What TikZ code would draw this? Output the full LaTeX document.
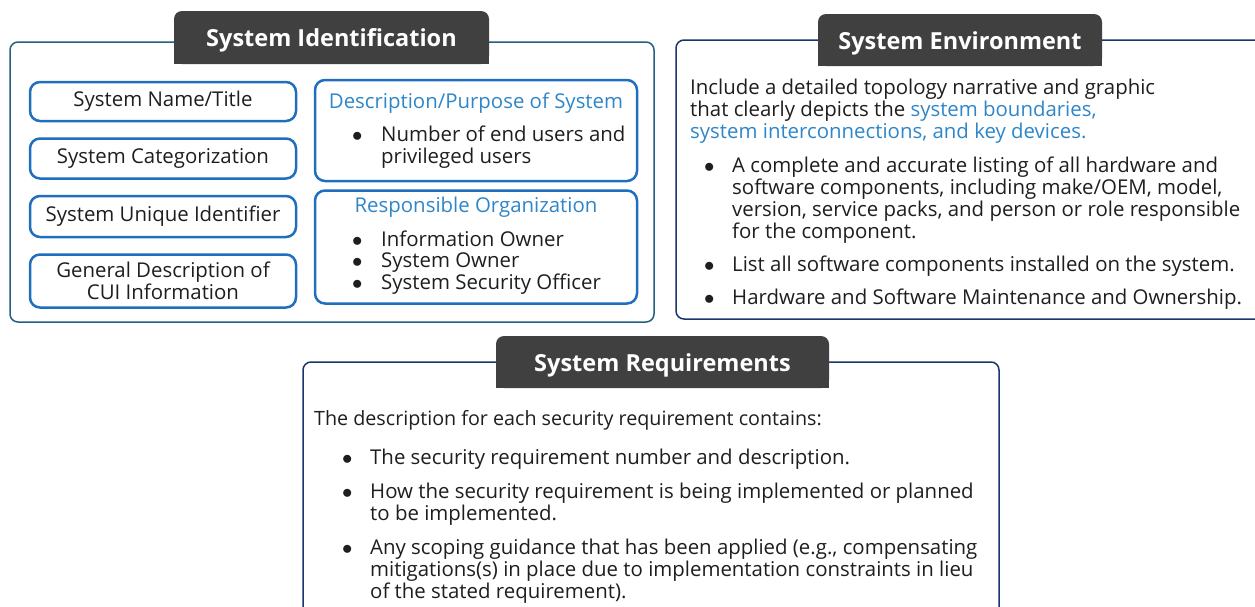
\documentclass[tikz,border=0pt]{standalone}
\usepackage{fontspec}
\setmainfont{Open Sans}
\usetikzlibrary{positioning}
\definecolor{tabgrey}{RGB}{64, 64, 64}
\definecolor{tealframe}{RGB}{36, 96, 127}
\definecolor{navyframe}{RGB}{27, 52, 110}
\definecolor{itemblue}{RGB}{31, 111, 190}
\definecolor{textblue}{RGB}{46, 134, 200}
\definecolor{bodygrey}{RGB}{30, 30, 30}
\newcommand{\bodyfont}{\fontsize{20.4}{21.7}\selectfont}
\newcommand{\headfont}{\fontsize{23.5}{26}\selectfont\bfseries}
\newcommand{\dotmark}{$\bullet$}

\begin{document}
\begin{tikzpicture}[x=1pt, y=-1pt,
    panel/.style={draw, line width=1.5pt, rounded corners=8pt},
    tab/.style={fill=tabgrey, rounded corners=8pt, inner sep=0pt},
    head/.style={text=white, font=\headfont, inner sep=0pt, yshift=-3pt},
    item/.style={draw=itemblue, line width=2.5pt, rounded corners=10pt, align=center, font=\bodyfont, text=bodygrey, inner sep=2pt},
    bodytext/.style={font=\bodyfont, text=bodygrey, inner sep=0pt, anchor=base west}
]
\useasboundingbox (0,0) rectangle (1255,606);

% Panels
\draw [panel, tealframe] (10,42) rectangle (654,322);
\draw [panel, navyframe] (676,40) rectangle (1275,319);
\draw [panel, navyframe] (303,362) rectangle (999,630);

% Tabs
\node (sidtab) [tab, minimum width=315pt, minimum height=53pt] at (331.5,37.5) {};
\fill [tabgrey] (sidtab.west) rectangle (sidtab.south east);
\node (sidhead) [head] at (sidtab.center) {System Identification};
\node (envtab) [tab, minimum width=284pt, minimum height=52pt] at (960,40) {};
\fill [tabgrey] (envtab.west) rectangle (envtab.south east);
\node (envhead) [head] at (envtab.center) {System Environment};
\node (reqtab) [tab, minimum width=333pt, minimum height=52pt] at (662.5,362) {};
\fill [tabgrey] (reqtab.west) rectangle (reqtab.south east);
\node (reqhead) [head] at (reqtab.center) {System Requirements};

% System Identification: left column
\node (name)   [item, minimum width=266pt, minimum height=39pt] at (163,101.5) {System Name/Title};
\node (categ)  [item, minimum width=266pt, minimum height=40pt, below=15pt of name] {System Categorization};
\node (unique) [item, minimum width=266pt, minimum height=41pt, below=15pt of categ] {System Unique Identifier};
\node (cuidesc) [item, minimum width=266pt, minimum height=53pt, below=15pt of unique] {General Description of\\CUI Information};

% System Identification: right column
\node (purpose) [item, minimum width=322pt, minimum height=101pt] at (476,130.5) {};
\node (resporg) [item, minimum width=322pt, minimum height=113pt, below=7pt of purpose] {};
\node (purposetitle) [font=\bodyfont, text=textblue, inner sep=0pt, anchor=base] at (476,108) {Description/Purpose of System};
\node (purposelist) [bodytext] at (352,141) {\begin{tabular}[t]{@{}p{29pt}@{}l@{}}\dotmark & Number of end users and\\ & privileged users\end{tabular}};
\node (resptitle) [font=\bodyfont, text=textblue, inner sep=0pt, anchor=base] at (476,212) {Responsible Organization};
\node (resplist) [bodytext] at (352,246) {\begin{tabular}[t]{@{}p{29pt}@{}l@{}}\dotmark & Information Owner\\ \dotmark & System Owner\\ \dotmark & System Security Officer\end{tabular}};

% System Environment
\node (envintro) [bodytext] at (690,94) {\begin{tabular}[t]{@{}l@{}}Include a detailed topology narrative and graphic\\ that clearly depicts the {\color{textblue}system boundaries,}\\ {\color{textblue}system interconnections, and key devices.}\end{tabular}};
\node (envlist) [bodytext] at (704,172) {\begin{tabular}[t]{@{}p{28pt}@{}l@{}}\dotmark & A complete and accurate listing of all hardware and\\ & software components, including make/OEM, model,\\ & version, service packs, and person or role responsible\\ & for the component.\\[11pt] \dotmark & List all software components installed on the system.\\[11pt] \dotmark & Hardware and Software Maintenance and Ownership.\end{tabular}};

% System Requirements
\node (reqintro) [bodytext, font=\fontsize{19.7}{21.7}\selectfont] at (314,425) {The description for each security requirement contains:};
\node (reqlist) [bodytext] at (342,464) {\begin{tabular}[t]{@{}p{28pt}@{}l@{}}\dotmark & The security requirement number and description.\\[12pt] \dotmark & How the security requirement is being implemented or planned\\ & to be implemented.\\[12pt] \dotmark & Any scoping guidance that has been applied (e.g., compensating\\ & mitigations(s) in place due to implementation constraints in lieu\\ & of the stated requirement).\end{tabular}};

\end{tikzpicture}
\end{document}
